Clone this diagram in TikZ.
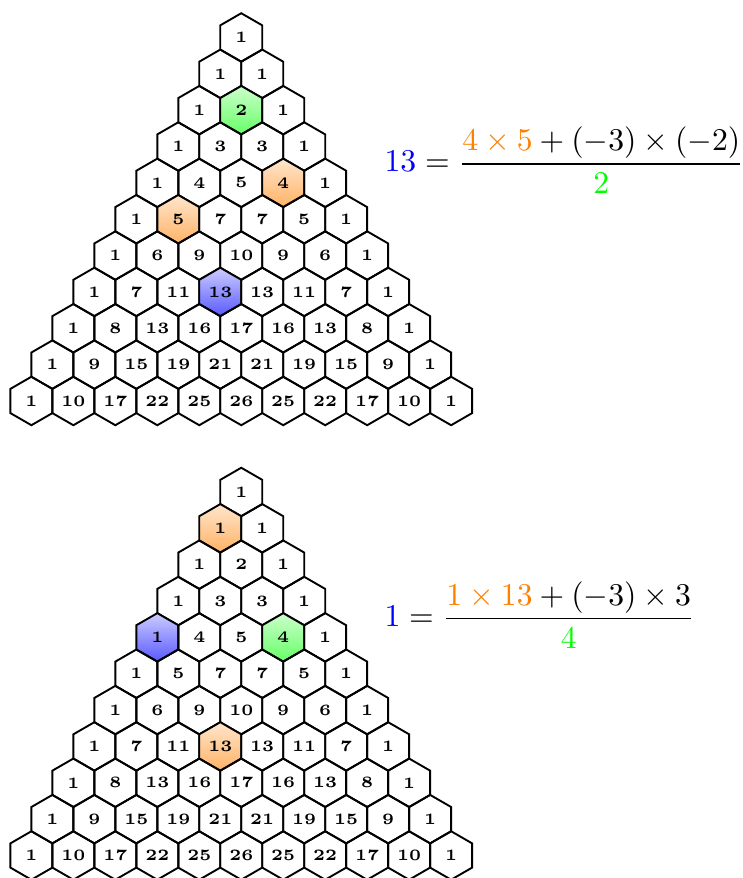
\documentclass[tikz,border=0pt]{standalone}
\usepackage{amsmath}
\usetikzlibrary{shapes.geometric}

% one triangle of hexagons, #1 = name prefix
\newcommand{\hextri}[1]{%
  \foreach \row [count=\r from 0] in {{1},{1,1},{1,2,1},{1,3,3,1},{1,4,5,4,1},
      {1,5,7,7,5,1},{1,6,9,10,9,6,1},{1,7,11,13,13,11,7,1},
      {1,8,13,16,17,16,13,8,1},{1,9,15,19,21,21,19,15,9,1},
      {1,10,17,22,25,26,25,22,17,10,1}}
    \foreach \v [count=\k from 0] in \row
      \node[hexa, cell \r-\k/.try] (#1-\r-\k) at ({(\k-\r/2)*0.4659},{-\r*0.4035}) {\v};
}

\begin{document}
\begin{tikzpicture}[
  hexa/.style={draw, semithick, regular polygon, regular polygon sides=6,
    shape border rotate=30, minimum size=5.38mm, inner sep=0pt, outer sep=0pt,
    font=\tiny\bfseries},
  greenhex/.style={top color=green!20, bottom color=green!60},
  orangehex/.style={top color=orange!20, bottom color=orange!60},
  bluehex/.style={top color=blue!20, bottom color=blue!65},
  formula/.style={anchor=base west, inner sep=0pt}
]
\useasboundingbox (-2.678,0.416) rectangle (5.569,-9.33);

\begin{scope}[cell 2-1/.style=greenhex, cell 4-3/.style=orangehex,
              cell 5-1/.style=orangehex, cell 7-3/.style=bluehex]
  \hextri{t}
  \node[formula] (eqt) at (1.584,-1.493)
    {$\displaystyle \textcolor{blue}{13} = \frac{\textcolor{orange}{4\times 5} + (-3)\times(-2)}{\textcolor{green}{2}}$};
\end{scope}

\begin{scope}[yshift=-5.045cm, cell 1-0/.style=orangehex, cell 4-0/.style=bluehex,
              cell 4-3/.style=greenhex, cell 7-3/.style=orangehex]
  \hextri{b}
  \node[formula] (eqb) at (1.584,-1.493)
    {$\displaystyle \textcolor{blue}{1} = \frac{\textcolor{orange}{1\times 13} + (-3)\times 3}{\textcolor{green}{4}}$};
\end{scope}
\end{tikzpicture}
\end{document}
